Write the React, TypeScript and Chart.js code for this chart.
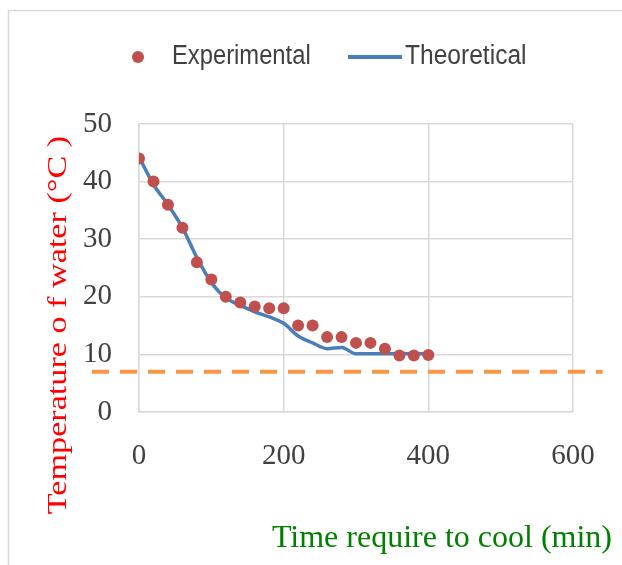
import { useEffect, useRef } from "react";
import { Chart, registerables } from "chart.js";

Chart.register(...registerables);

// ---- data ----
const timeMin = [0, 20, 40, 60, 80, 100, 120, 140, 160, 180, 200, 220, 240, 260, 280, 300, 320, 340, 360, 380, 400];
const experimental = [44, 40, 36, 32, 26, 23, 20, 19, 18.3, 18, 18, 15, 15, 13, 13, 12, 12, 11, 9.8, 9.8, 9.9];
const theoretical = [44.3, 39.5, 36, 32, 26.8, 22.5, 19.8, 18.5, 17.4, 16.5, 15.4, 13.2, 12, 11, 11.2, 10.1, 10.1, 10.1, 10.1, 10.1, 10.1];
const limitX = [-65, 641];
const limitY = [7, 7];
const xRange = [0, 600];
const xStep = 200;
const yRange = [0, 50];
const yStep = 10;
const seriesLabels = ["Experimental", "Theoretical", "Limit"];
const xTitle = "Time require to cool (min)";
const yTitle = "Temperature o f water (°C )";

const SERIF = "'Liberation Serif', 'Times New Roman', serif";
const LEGEND_FONT = "'Liberation Sans Narrow', 'Liberation Sans', sans-serif";

const drawScaledText = (ctx: any, text: string, x: number, y: number, sx: number) => {
  ctx.save();
  ctx.translate(x, y);
  ctx.scale(sx, 1);
  ctx.fillText(text, 0, 0);
  ctx.restore();
};

const decorPlugin = {
  id: "decor",
  beforeDraw(chart: any) {
    const ctx = chart.ctx;
    ctx.save();
    ctx.fillStyle = "#ffffff";
    ctx.fillRect(0, 0, chart.width, chart.height);
    ctx.strokeStyle = "#d9d9d9";
    ctx.lineWidth = 1.5;
    ctx.strokeRect(8.5, 10.5, 900, 900);
    ctx.restore();
  },
  afterDraw(chart: any) {
    const ctx = chart.ctx;
    const ds = chart.data.datasets;
    ctx.save();
    // legend
    ctx.font = `27px ${LEGEND_FONT}`;
    ctx.textBaseline = "middle";
    ctx.textAlign = "left";
    const ly = 57;
    ctx.fillStyle = ds[0].backgroundColor;
    ctx.beginPath();
    ctx.arc(138, ly, 6, 0, Math.PI * 2);
    ctx.fill();
    ctx.fillStyle = "#404040";
    drawScaledText(ctx, ds[0].label, 172, ly, 0.88);
    ctx.strokeStyle = ds[1].borderColor;
    ctx.lineWidth = 4;
    ctx.beginPath();
    ctx.moveTo(348, ly);
    ctx.lineTo(402, ly);
    ctx.stroke();
    drawScaledText(ctx, ds[1].label, 405, ly, 0.91);

    // x title
    ctx.font = `32px ${SERIF}`;
    ctx.fillStyle = "#008000";
    ctx.textAlign = "right";
    ctx.textBaseline = "alphabetic";
    ctx.fillText(xTitle, 612, 547);

    // y title
    ctx.translate(66, 325);
    ctx.rotate(-Math.PI / 2);
    ctx.scale(1.22, 1);
    ctx.font = `28px ${SERIF}`;
    ctx.fillStyle = "#ff0000";
    ctx.textAlign = "center";
    ctx.fillText(yTitle, 0, 0);
    ctx.restore();
  },
};

export default function App() {
  const ref = useRef<HTMLCanvasElement>(null);
  useEffect(() => {
    const chart = new Chart(ref.current as HTMLCanvasElement, {
      type: "scatter",
      data: {
        datasets: [
          {
            label: seriesLabels[0],
            data: timeMin.map((t, i) => ({ x: t, y: experimental[i] })),
            showLine: false,
            pointRadius: 6,
            pointBackgroundColor: "#C0504D",
            backgroundColor: "#C0504D",
            pointBorderWidth: 0,
            order: 0,
          },
          {
            label: seriesLabels[1],
            data: timeMin.map((t, i) => ({ x: t, y: theoretical[i] })),
            showLine: true,
            borderColor: "#4A7EBB",
            backgroundColor: "#4A7EBB",
            borderWidth: 3.5,
            pointRadius: 0,
            cubicInterpolationMode: "monotone",
            order: 1,
          },
          {
            label: seriesLabels[2],
            data: limitX.map((t, i) => ({ x: t, y: limitY[i] })),
            showLine: true,
            borderColor: "#F79646",
            backgroundColor: "#F79646",
            borderWidth: 4,
            borderDash: [17, 11],
            pointRadius: 0,
            clip: false,
            order: 2,
          },
        ] as any,
      },
      options: {
        animation: false,
        responsive: true,
        maintainAspectRatio: false,
        layout: { padding: { top: 124, right: 49, left: 0, bottom: 0 } },
        plugins: { legend: { display: false }, tooltip: { enabled: false } },
        scales: {
          x: {
            type: "linear",
            min: xRange[0],
            max: xRange[1],
            ticks: {
              stepSize: xStep,
              padding: 27,
              color: "#404040",
              font: { family: SERIF, size: 29 },
            },
            grid: { color: "#d9d9d9", lineWidth: 1.5, drawTicks: false },
            border: { color: "#d9d9d9", width: 1.5 },
            afterFit: (s: any) => {
              s.height = 153;
            },
          },
          y: {
            type: "linear",
            min: yRange[0],
            max: yRange[1],
            ticks: {
              stepSize: yStep,
              padding: 27,
              color: "#404040",
              font: { family: SERIF, size: 29 },
            },
            grid: { color: "#d9d9d9", lineWidth: 1.5, drawTicks: false },
            border: { color: "#d9d9d9", width: 1.5 },
            afterFit: (s: any) => {
              s.width = 139;
            },
          },
        },
      },
      plugins: [decorPlugin],
    });
    return () => chart.destroy();
  }, []);
  return (
    <div style={{ position: "absolute", left: 0, top: 0, width: 622, height: 565, background: "#fff" }}>
      <canvas ref={ref} />
    </div>
  );
}
